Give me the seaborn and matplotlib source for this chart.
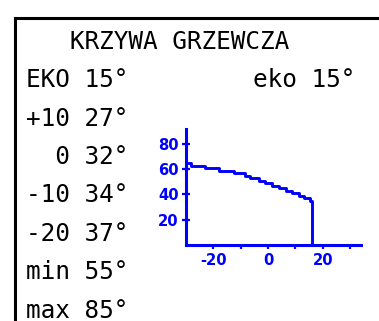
import matplotlib
matplotlib.use("Agg")
import matplotlib.pyplot as plt
from matplotlib.patches import Rectangle
import seaborn as sns
import pandas as pd

# Panel text
title = "KRZYWA GRZEWCZA"
row_labels = ["EKO", "+10", "0", "-10", "-20", "min", "max"]
row_values = [15, 27, 32, 34, 37, 55, 85]
eco_label = "eko"
eco_value = 15

# Heating curve: outdoor temperature (step edges) vs supply temperature
curve_outdoor = [-30, -28, -23, -18, -12.5, -8.3, -6.5, -3.4, -1.2, 1.5,
                 3.9, 6.6, 8.8, 11.2, 13.0, 15.4, 16.0]
curve_supply = [65, 63, 61, 59, 57, 55, 53, 51, 49, 47,
                45, 43, 41, 39, 37, 35, 0]

x_ticks = [-20, -10, 0, 10, 20, 30]
x_tick_labels = ["-20", "", "0", "", "20", ""]
y_ticks = [20, 40, 60, 80]
y_tick_labels = ["20", "40", "60", "80"]

W, H = 379, 321
BLUE = "#0000ff"

sns.set_style("white")
plt.rcParams["font.family"] = ["DejaVu Sans Mono"]

fig = plt.figure(figsize=(W / 100, H / 100), dpi=100)
fig.patch.set_facecolor("white")


def px(x, y):
    return x / W, 1 - y / H


# Display frame (runs off the right and bottom edges)
fig.add_artist(Rectangle((14.7 / W, -0.2), 1.5, (H - 18.3) / H + 0.2,
                         transform=fig.transFigure, fill=False,
                         edgecolor="black", linewidth=2.2))

text_kw = dict(fontsize=17.6, color="black", va="baseline", ha="left",
               family="DejaVu Sans Mono")
x0 = 26.0
line_gap = 38.4
fig.text(*px(x0, 48.7), "   " + title, **text_kw)
for k, (lab, val) in enumerate(zip(row_labels, row_values), start=1):
    fig.text(*px(x0, 48.7 + k * line_gap), f"{lab:>3} {val}\u00b0", **text_kw)
fig.text(*px(252.8, 48.7 + line_gap), f"{eco_label} {eco_value}\u00b0",
         **text_kw)

# Curve plot
ax_l, ax_r, ax_t, ax_b = 185.5, 360.7, 129.3, 244.7
ax = fig.add_axes([ax_l / W, 1 - ax_b / H, (ax_r - ax_l) / W, (ax_b - ax_t) / H])
ax.set_facecolor("none")

df = pd.DataFrame({"outdoor": curve_outdoor, "supply": curve_supply})
sns.lineplot(data=df, x="outdoor", y="supply", ax=ax, color=BLUE,
             linewidth=2.1, drawstyle="steps-post", sort=False,
             estimator=None)

ax.set_xlim(-30.1, 33.8)
ax.set_ylim(0, 91.8)
ax.set_xlabel("")
ax.set_ylabel("")
for side in ("top", "right"):
    ax.spines[side].set_visible(False)
for side in ("left", "bottom"):
    ax.spines[side].set_color(BLUE)
    ax.spines[side].set_linewidth(2.2)
    ax.spines[side].set_capstyle("projecting")

tick_font = dict(family="DejaVu Sans", weight="bold", size=10.6)
ax.set_xticks(x_ticks)
ax.set_xticklabels(x_tick_labels, fontdict=tick_font, color=BLUE)
ax.set_yticks(y_ticks)
ax.set_yticklabels(y_tick_labels, fontdict=tick_font, color=BLUE)
ax.tick_params(axis="x", bottom=True, direction="out", length=2.8,
               width=1.6, color=BLUE, pad=3.2)
ax.tick_params(axis="y", left=True, direction="inout", length=6.0,
               width=1.6, color=BLUE, pad=1.8)

fig.savefig("out.png", dpi=100, facecolor="white")
